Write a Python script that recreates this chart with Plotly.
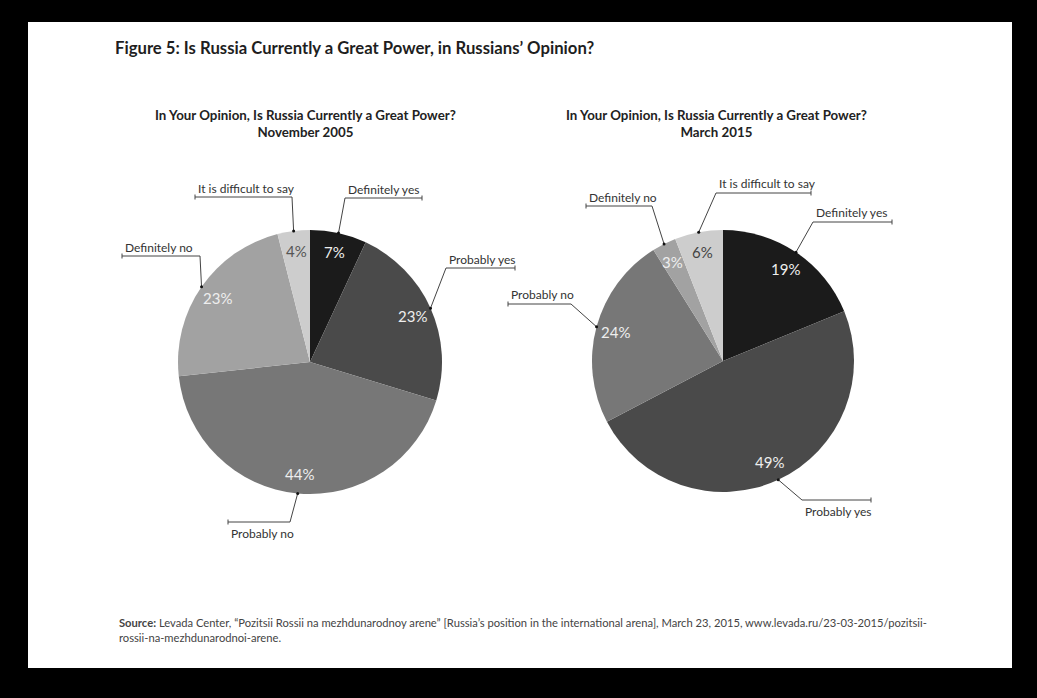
import math
import plotly.graph_objects as go

W, H = 1037, 698

# ---------------- data ----------------
categories = ["Definitely yes", "Probably yes", "Probably no", "Definitely no", "It is difficult to say"]
values_2005 = [7, 23, 44, 23, 4]
values_2015 = [19, 49, 24, 3, 6]
slice_colors = ["#1b1b1b", "#4a4a4a", "#777777", "#a2a2a2", "#cdcdcd"]
text_colors_2005 = ["#eeeeee", "#eeeeee", "#eeeeee", "#eeeeee", "#555555"]
text_colors_2015 = ["#eeeeee", "#eeeeee", "#eeeeee", "#eeeeee", "#444444"]

title = "Figure 5: Is Russia Currently a Great Power, in Russians\u2019 Opinion?"
subtitle_2005 = "In Your Opinion, Is Russia Currently a Great Power?<br>November 2005"
subtitle_2015 = "In Your Opinion, Is Russia Currently a Great Power?<br>March 2015"
source_text = ("<b>Source:</b> Levada Center, \u201cPozitsii Rossii na mezhdunarodnoy arene\u201d "
               "[Russia\u2019s position in the international arena], March 23, 2015, "
               "www.levada.ru/23-03-2015/pozitsii-<br>rossii-na-mezhdunarodnoi-arene.")

# ---------------- layout helpers (pixel geometry) ----------------
pies = [
    dict(values=values_2005, tcol=text_colors_2005, cx=310, cy=362, r=132, sub=subtitle_2005, subx=305,
         # label: (elbow x, elbow y, underline far-end x, text above?)
         labels={
             "Definitely yes": (345, 198, 422, True),
             "Probably yes": (446, 268, 515, True),
             "Probably no": (290, 522, 228, False),
             "Definitely no": (200, 256, 122, True),
             "It is difficult to say": (292, 197, 195, True),
         }),
    dict(values=values_2015, tcol=text_colors_2015, cx=723, cy=361, r=131, sub=subtitle_2015, subx=716,
         labels={
             "Definitely yes": (813, 222, 892, True),
             "Probably yes": (802, 500, 871, False),
             "Probably no": (571, 304, 508, True),
             "Definitely no": (652, 206, 586, True),
             "It is difficult to say": (716, 193, 811, True),
         }),
]
PCT_RADIUS = 0.85


def px(x):
    return x / W


def py(y):
    return 1 - y / H


fig = go.Figure()
shapes = []
annotations = []

# white panel
shapes.append(dict(type="rect", xref="paper", yref="paper", x0=px(28), x1=px(1012), y0=py(668), y1=py(22),
                   fillcolor="white", line=dict(width=0), layer="below"))

for p in pies:
    vals = p["values"]
    total = sum(vals)
    cx, cy, r = p["cx"], p["cy"], p["r"]
    fig.add_trace(go.Pie(
        labels=categories, values=vals, sort=False, direction="clockwise", rotation=0,
        marker=dict(colors=slice_colors, line=dict(width=0)),
        textinfo="none",
        hoverinfo="label+value", showlegend=False,
        domain=dict(x=[px(cx - r), px(cx + r)], y=[py(cy + r), py(cy - r)]),
    ))
    annotations.append(dict(text=f"<b>{p['sub']}</b>", x=px(p["subx"]), y=py(124), xref="paper", yref="paper",
                            showarrow=False, xanchor="center", yanchor="middle",
                            font=dict(family="Lato", size=13.3, color="#222222"), align="center"))
    cum = 0
    for cat, v, tc in zip(categories, vals, p["tcol"]):
        mid = (cum + v / 2) / total * 2 * math.pi
        cum += v
        # percentage label inside slice
        annotations.append(dict(text=f"{v}%", x=px(cx + PCT_RADIUS * r * math.sin(mid)),
                                y=py(cy - PCT_RADIUS * r * math.cos(mid)), xref="paper", yref="paper",
                                showarrow=False, xanchor="center", yanchor="middle",
                                font=dict(family="Lato", size=15, color=tc)))
        ax = cx + r * math.sin(mid)
        ay = cy - r * math.cos(mid)
        ex, ey, fx, above = p["labels"][cat]
        shapes.append(dict(type="path", xref="paper", yref="paper",
                           path=f"M {px(ax)},{py(ay)} L {px(ex)},{py(ey)} L {px(fx)},{py(ey)}",
                           line=dict(color="#444444", width=1), layer="above"))
        shapes.append(dict(type="line", xref="paper", yref="paper", x0=px(fx), x1=px(fx),
                           y0=py(ey - 2.5), y1=py(ey + 2.5), line=dict(color="#444444", width=1)))
        shapes.append(dict(type="circle", xref="paper", yref="paper", x0=px(ax - 1.5), x1=px(ax + 1.5),
                           y0=py(ay + 1.5), y1=py(ay - 1.5), fillcolor="#111111",
                           line=dict(width=0), layer="above"))
        left = min(ex, fx)
        annotations.append(dict(text=cat, x=px(left + 1), y=py(ey - 9 if above else ey + 11),
                                xref="paper", yref="paper", showarrow=False, xanchor="left",
                                yanchor="middle", font=dict(family="Lato", size=12, color="#333333")))

annotations.append(dict(text=f"<b>{title}</b>", x=px(113), y=py(48), xref="paper", yref="paper",
                        showarrow=False, xanchor="left", yanchor="middle",
                        font=dict(family="Lato", size=16.7, color="#1e1e1e")))
annotations.append(dict(text=source_text, x=px(117), y=py(630), xref="paper", yref="paper",
                        showarrow=False, xanchor="left", yanchor="middle", align="left",
                        font=dict(family="Lato", size=11.2, color="#444444")))

fig.update_layout(width=W, height=H, margin=dict(l=0, r=0, t=0, b=0),
                  paper_bgcolor="black", plot_bgcolor="black",
                  shapes=shapes, annotations=annotations)

fig.write_html("out.html")
